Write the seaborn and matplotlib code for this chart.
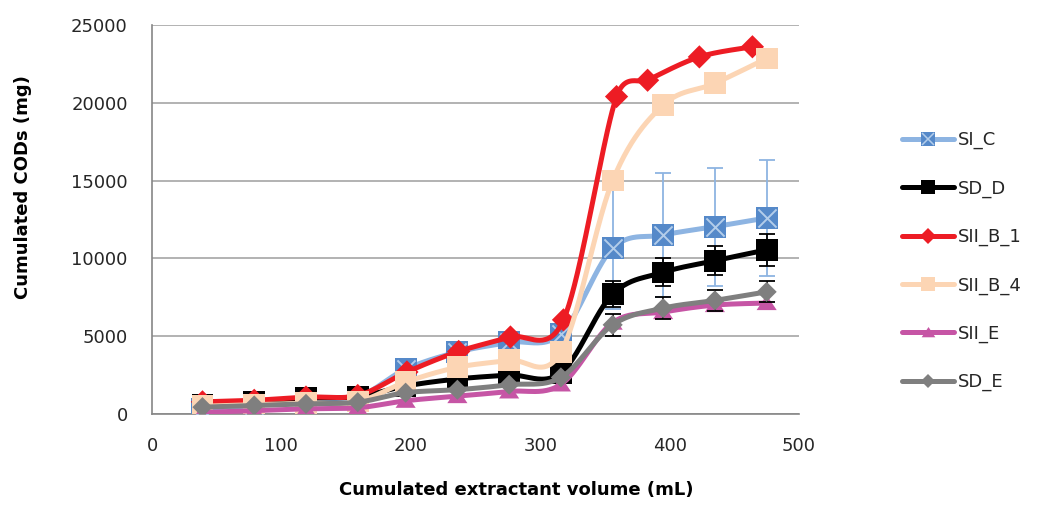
import numpy as np
import pandas as pd
import matplotlib
matplotlib.use("Agg")
import matplotlib.pyplot as plt
from matplotlib.lines import Line2D
from matplotlib.path import Path
from matplotlib.legend_handler import HandlerTuple
import seaborn as sns

# ---- data -------------------------------------------------------------
series_names = ["SI_C", "SD_D", "SII_B_1", "SII_B_4", "SII_E", "SD_E"]

volume_common = [39, 79, 119, 159, 196, 236, 276, 316, 356, 395, 435, 475]
volume_b1 = [39, 79, 119, 159, 197, 237, 277, 318, 359, 383, 423, 464]

cod_si_c = [350, 550, 900, 1100, 2880, 3980, 4600, 5150, 10650, 11500, 12040, 12600]
cod_sd_d = [590, 800, 1010, 1120, 1800, 2250, 2500, 2650, 7700, 9100, 9850, 10550]
cod_sii_b_1 = [780, 880, 1090, 1190, 2700, 4020, 4950, 6050, 20400, 21450, 22950, 23600]
cod_sii_b_4 = [500, 600, 700, 800, 2050, 3000, 3450, 3980, 15000, 19850, 21250, 22850]
cod_sii_e = [100, 220, 330, 400, 850, 1150, 1450, 1900, 5870, 6550, 7000, 7130]
cod_sd_e = [440, 550, 650, 760, 1370, 1560, 1880, 2350, 5730, 6800, 7300, 7850]

err_si_c = [0, 0, 0, 0, 0, 0, 0, 0, 3900, 4000, 3800, 3700]
err_sd_d = [0, 0, 0, 0, 0, 0, 0, 0, 850, 900, 920, 1050]
err_sd_e = [0, 0, 0, 0, 0, 0, 0, 0, 700, 720, 700, 680]

x_ticks = [0, 100, 200, 300, 400, 500]
y_ticks = [0, 5000, 10000, 15000, 20000, 25000]

# ---- styling ----------------------------------------------------------
sns.set_theme(style="white")
plt.rcParams["font.family"] = ["DejaVu Sans"]

tri_marker = Path([(-1, -0.7), (1, -0.7), (0, 0.8), (-1, -0.7)],
                  [Path.MOVETO, Path.LINETO, Path.LINETO, Path.CLOSEPOLY])

styles = {
    "SI_C": dict(line="#8db4e2", face="#5589c9", marker="s", size=250),
    "SD_D": dict(line="#000000", face="#000000", marker="s", size=245),
    "SII_B_1": dict(line="#ed1c24", face="#ed1c24", marker="D", size=140),
    "SII_B_4": dict(line="#fcd5b4", face="#fcd5b4", marker="s", size=245),
    "SII_E": dict(line="#c655a5", face="#c655a5", marker=tri_marker, size=210),
    "SD_E": dict(line="#7f7f7f", face="#7f7f7f", marker="D", size=105),
}

records = {
    "SI_C": (volume_common, cod_si_c, err_si_c),
    "SD_D": (volume_common, cod_sd_d, err_sd_d),
    "SII_B_1": (volume_b1, cod_sii_b_1, None),
    "SII_B_4": (volume_common, cod_sii_b_4, None),
    "SII_E": (volume_common, cod_sii_e, None),
    "SD_E": (volume_common, cod_sd_e, err_sd_e),
}

# approximate screen scale (pixels per data unit) used for the smoothing
PX_PER_X = 647 / 500
PX_PER_Y = 389 / 25000


def smooth_curve(x, y, n=40):
    """Cubic Bezier smoothing through every point, with tangent arms
    shortened when they would exceed the segment length."""
    p = np.column_stack([np.asarray(x, float) * PX_PER_X,
                         np.asarray(y, float) * PX_PER_Y])
    pts = []
    for i in range(len(p) - 1):
        p0 = p[i - 1] if i > 0 else p[i]
        p1, p2 = p[i], p[i + 1]
        p3 = p[i + 2] if i + 2 < len(p) else p[i + 1]
        a1 = (p2 - p0) / 6.0
        a2 = (p3 - p1) / 6.0
        seg_len = np.hypot(*(p2 - p1))
        arm_len = np.hypot(*a1) + np.hypot(*a2)
        if arm_len > seg_len and arm_len > 0:
            a1 *= seg_len / arm_len
            a2 *= seg_len / arm_len
        c1 = p1 + a1
        c2 = p2 - a2
        t = np.linspace(0, 1, n, endpoint=(i == len(p) - 2))[:, None]
        seg = ((1 - t) ** 3) * p1 + 3 * ((1 - t) ** 2) * t * c1 \
            + 3 * (1 - t) * t ** 2 * c2 + t ** 3 * p2
        pts.append(seg)
    pts = np.vstack(pts)
    return pts[:, 0] / PX_PER_X, pts[:, 1] / PX_PER_Y


fig = plt.figure(figsize=(10.42, 5.05), dpi=100)
ax = fig.add_axes([152 / 1042, 1 - 414 / 505, (799 - 152) / 1042, (414 - 25) / 505])

for k, name in enumerate(series_names):
    xs, ys, errs = records[name]
    st = styles[name]
    z = 3 + 3 * k
    sx, sy = smooth_curve(xs, ys)
    curve = pd.DataFrame({"volume": sx, "cod": sy})
    sns.lineplot(data=curve, x="volume", y="cod", color=st["line"], lw=3.6,
                 sort=False, estimator=None, ax=ax, zorder=z)
    if errs is not None:
        sel = [i for i, e in enumerate(errs) if e > 0]
        ebar_color = "#8db4e2" if name == "SI_C" else "#000000"
        ax.errorbar([xs[i] for i in sel], [ys[i] for i in sel],
                    yerr=[errs[i] for i in sel], fmt="none", ecolor=ebar_color,
                    elinewidth=1.3, capsize=6, capthick=1.3, zorder=z + 0.5)
    pts = pd.DataFrame({"volume": xs, "cod": ys})
    sns.scatterplot(data=pts, x="volume", y="cod", marker=st["marker"], s=st["size"],
                    color=st["face"], edgecolor="none", linewidth=0, ax=ax,
                    zorder=z + 1)
    if name == "SI_C":
        sns.scatterplot(data=pts, x="volume", y="cod", marker="x", s=170,
                        color="#b3cdea", linewidth=1.4, ax=ax, zorder=z + 1.5)

# ---- axes -------------------------------------------------------------
ax.set_xlim(0, 500)
ax.set_ylim(0, 25000)
ax.set_xticks(x_ticks)
ax.set_yticks(y_ticks)
ax.yaxis.grid(True, color="#a6a6a6", lw=1.2)
ax.xaxis.grid(False)
ax.set_axisbelow(True)
for side in ["top", "right"]:
    ax.spines[side].set_visible(False)
for side in ["left", "bottom"]:
    ax.spines[side].set_color("#868686")
    ax.spines[side].set_linewidth(1.2)
ax.tick_params(axis="both", direction="out", length=6.5, width=1.2, color="#868686",
               labelsize=13, labelcolor="#262626")
ax.tick_params(axis="y", pad=11)
ax.tick_params(axis="x", pad=10)

ax.set_xlabel("Cumulated extractant volume (mL)", fontsize=13, fontweight="bold",
              color="#000000", va="center")
ax.set_ylabel("Cumulated CODs (mg)", fontsize=13, fontweight="bold",
              color="#000000", va="center")
ax.xaxis.set_label_coords((516 - 152) / 647, (414 - 490) / 389)
ax.yaxis.set_label_coords((23 - 152) / 647, (414 - 187) / 389)

# ---- legend -----------------------------------------------------------
handles = []
for name in series_names:
    st = styles[name]
    ms = np.sqrt(st["size"]) * 0.68
    base = Line2D([], [], color=st["line"], lw=3.6, marker=st["marker"],
                  markersize=ms, markerfacecolor=st["face"], markeredgewidth=0)
    if name == "SI_C":
        cross = Line2D([], [], lw=0, marker="x", markersize=ms * 0.8,
                       markeredgecolor="#b3cdea", markeredgewidth=1.1)
        handles.append((base, cross))
    else:
        handles.append(base)

fig.legend(handles, series_names, loc="upper left",
           bbox_to_anchor=(901.7 / 1042, 1 - 131 / 505), frameon=False,
           fontsize=13, handlelength=2.9, handletextpad=0.2, labelspacing=1.67,
           borderpad=0, borderaxespad=0,
           handler_map={tuple: HandlerTuple(ndivide=1, pad=0)})

fig.savefig("out.png", dpi=100)
